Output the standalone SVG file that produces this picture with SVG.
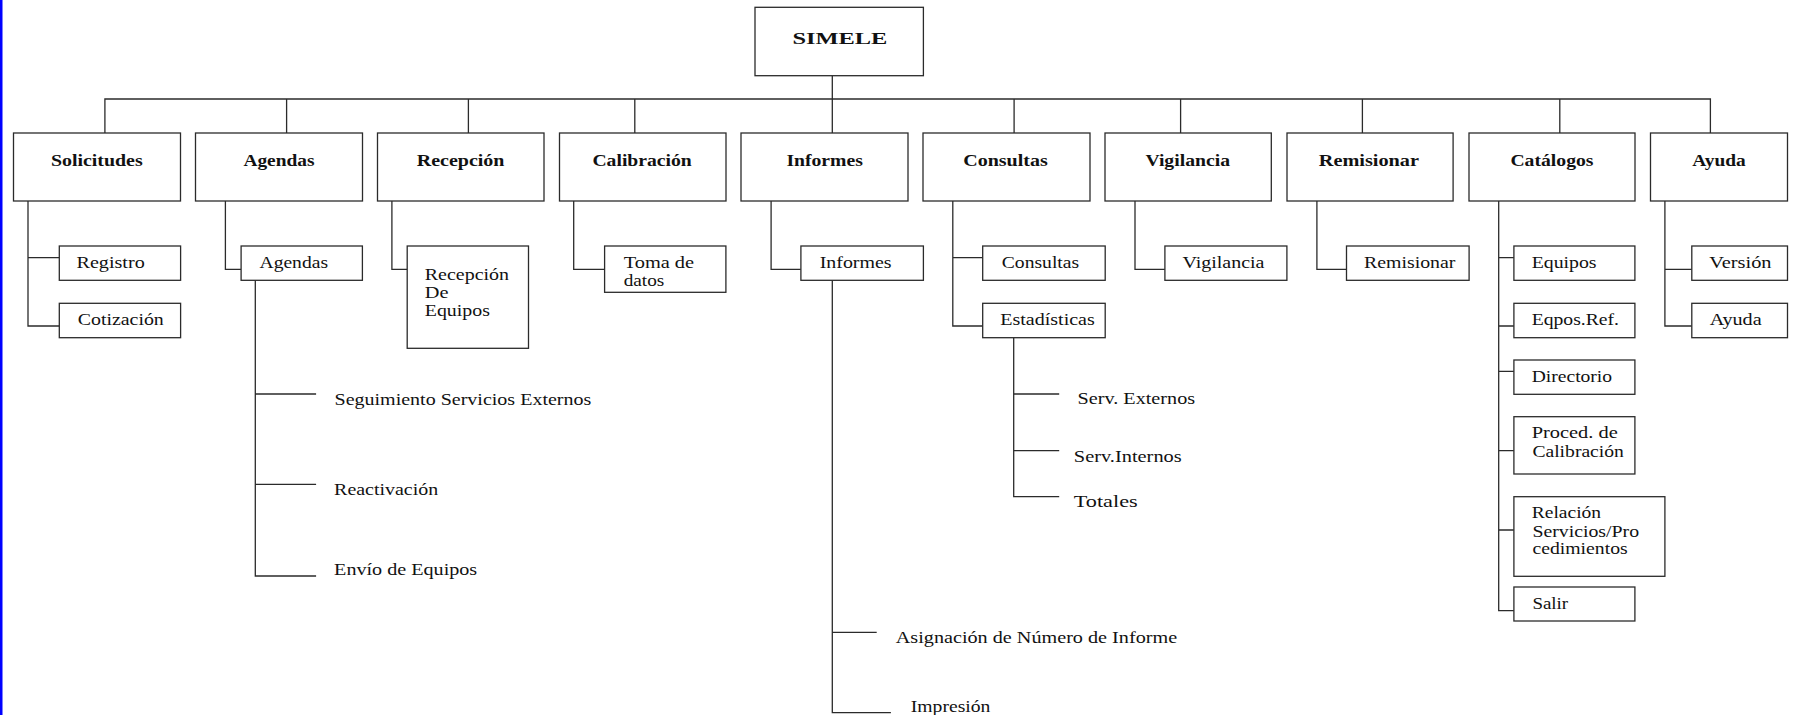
<svg xmlns="http://www.w3.org/2000/svg" width="1795" height="715" viewBox="0 0 1795 715">
<style>
.box{fill:#fff;stroke:#2b2b2b;stroke-width:1.3}
.ln{fill:none;stroke:#2b2b2b;stroke-width:1.3}
text{font-family:"Liberation Serif","Times New Roman",serif;fill:#111;font-size:17px}
.b{font-weight:bold}
</style>
<rect x="0" y="0" width="1795" height="715" fill="#fff"/>
<rect x="0" y="0" width="2.5" height="715" fill="#0000ff"/>
<g id="connectors">
<path class="ln" d="M832.3 75.7V133M104.9 133V99H1710.4V133M286.6 99V133M468.4 99V133M634.8 99V133M1014.1 99V133M1180.6 99V133M1362.4 99V133M1559.8 99V133"/>
<path class="ln" d="M28 201V326H59.3M28 257.7H59.3"/>
<path class="ln" d="M225.4 201V269.3H241.1M255.3 280.3V576H316.1M255.3 394H316.1M255.3 484.3H316.1"/>
<path class="ln" d="M391.9 201V269.3H407.2"/>
<path class="ln" d="M573.7 201V269.3H604.6"/>
<path class="ln" d="M771.1 201V269.3H800.9M832.3 280.3V712.7H890.9M832.3 632.3H876.7"/>
<path class="ln" d="M952.8 201V326H982.7M952.8 257.7H982.7M1013.7 337.7V496.7H1059.2M1013.7 394H1059.2M1013.7 450.7H1059.2"/>
<path class="ln" d="M1135 201V269.3H1164.9"/>
<path class="ln" d="M1316.9 201V269.3H1346.5"/>
<path class="ln" d="M1498.7 201V610.7H1513.9M1498.7 257.7H1513.9M1498.7 326H1513.9M1498.7 371.3H1513.9M1498.7 450.7H1513.9M1498.7 530H1513.9"/>
<path class="ln" d="M1664.9 201V326H1691.8M1664.9 269.3H1691.8"/>
</g>
<g id="simele"><rect class="box" x="755" y="7.3" width="168.4" height="68.4"/><text class="b" x="792.5" y="44.3" textLength="94.9" lengthAdjust="spacingAndGlyphs">SIMELE</text></g>
<g id="solicitudes"><rect class="box" x="13.5" y="133" width="167" height="68"/><text class="b" x="50.9" y="166" textLength="91.8" lengthAdjust="spacingAndGlyphs">Solicitudes</text></g>
<g id="agendas"><rect class="box" x="195.5" y="133" width="167" height="68"/><text class="b" x="243.4" y="166" textLength="71.2" lengthAdjust="spacingAndGlyphs">Agendas</text></g>
<g id="recepcion"><rect class="box" x="377.5" y="133" width="166.5" height="68"/><text class="b" x="416.8" y="166" textLength="87.6" lengthAdjust="spacingAndGlyphs">Recepción</text></g>
<g id="calibracion"><rect class="box" x="559.5" y="133" width="166.5" height="68"/><text class="b" x="592.4" y="166" textLength="99.4" lengthAdjust="spacingAndGlyphs">Calibración</text></g>
<g id="informes"><rect class="box" x="741" y="133" width="167" height="68"/><text class="b" x="786.4" y="166" textLength="76.5" lengthAdjust="spacingAndGlyphs">Informes</text></g>
<g id="consultas"><rect class="box" x="923" y="133" width="167" height="68"/><text class="b" x="963.2" y="166" textLength="84.6" lengthAdjust="spacingAndGlyphs">Consultas</text></g>
<g id="vigilancia"><rect class="box" x="1105" y="133" width="166.3" height="68"/><text class="b" x="1145.4" y="166" textLength="84.6" lengthAdjust="spacingAndGlyphs">Vigilancia</text></g>
<g id="remisionar"><rect class="box" x="1287" y="133" width="166.1" height="68"/><text class="b" x="1318.8" y="166" textLength="100.2" lengthAdjust="spacingAndGlyphs">Remisionar</text></g>
<g id="catalogos"><rect class="box" x="1469" y="133" width="166" height="68"/><text class="b" x="1510.4" y="166" textLength="83.1" lengthAdjust="spacingAndGlyphs">Catálogos</text></g>
<g id="ayuda"><rect class="box" x="1650.5" y="133" width="137" height="68"/><text class="b" x="1692.2" y="166" textLength="53.5" lengthAdjust="spacingAndGlyphs">Ayuda</text></g>
<g id="registro"><rect class="box" x="59.3" y="246" width="121.3" height="34.3"/><text x="76.5" y="268.3" textLength="68.2" lengthAdjust="spacingAndGlyphs">Registro</text></g>
<g id="cotizacion"><rect class="box" x="59.3" y="303.3" width="121.3" height="34.4"/><text x="77.7" y="325" textLength="86.1" lengthAdjust="spacingAndGlyphs">Cotización</text></g>
<g id="agendas-sub"><rect class="box" x="241.1" y="246" width="121.3" height="34.3"/><text x="259.5" y="268.3" textLength="68.5" lengthAdjust="spacingAndGlyphs">Agendas</text></g>
<g id="recepcion-equipos"><rect class="box" x="407.2" y="246" width="121.3" height="102.3"/><text x="424.8" y="280" textLength="84.2" lengthAdjust="spacingAndGlyphs">Recepción</text><text x="424.8" y="297.7" textLength="23.7" lengthAdjust="spacingAndGlyphs">De</text><text x="424.8" y="316" textLength="65.1" lengthAdjust="spacingAndGlyphs">Equipos</text></g>
<g id="toma-datos"><rect class="box" x="604.6" y="246" width="121.3" height="46.3"/><text x="623.7" y="268.3" textLength="70.4" lengthAdjust="spacingAndGlyphs">Toma de</text><text x="623.7" y="286" textLength="40.6" lengthAdjust="spacingAndGlyphs">datos</text></g>
<g id="informes-sub"><rect class="box" x="800.9" y="246" width="122.5" height="34.3"/><text x="819.7" y="268.3" textLength="71.9" lengthAdjust="spacingAndGlyphs">Informes</text></g>
<g id="consultas-sub"><rect class="box" x="982.7" y="246" width="122.5" height="34.3"/><text x="1001.8" y="268.3" textLength="77.3" lengthAdjust="spacingAndGlyphs">Consultas</text></g>
<g id="estadisticas"><rect class="box" x="982.7" y="303.3" width="122.5" height="34.4"/><text x="1000.3" y="325" textLength="94.5" lengthAdjust="spacingAndGlyphs">Estadísticas</text></g>
<g id="vigilancia-sub"><rect class="box" x="1164.9" y="246" width="122" height="34.3"/><text x="1182.5" y="268.3" textLength="82" lengthAdjust="spacingAndGlyphs">Vigilancia</text></g>
<g id="remisionar-sub"><rect class="box" x="1346.5" y="246" width="122.6" height="34.3"/><text x="1364" y="268.3" textLength="91.4" lengthAdjust="spacingAndGlyphs">Remisionar</text></g>
<g id="equipos"><rect class="box" x="1513.9" y="246" width="121" height="34.3"/><text x="1531.7" y="268.3" textLength="64.9" lengthAdjust="spacingAndGlyphs">Equipos</text></g>
<g id="eqpos-ref"><rect class="box" x="1513.9" y="303.3" width="121" height="34.4"/><text x="1531.7" y="325" textLength="87.3" lengthAdjust="spacingAndGlyphs">Eqpos.Ref.</text></g>
<g id="directorio"><rect class="box" x="1513.9" y="360" width="121" height="34.3"/><text x="1531.7" y="381.7" textLength="80.4" lengthAdjust="spacingAndGlyphs">Directorio</text></g>
<g id="proced"><rect class="box" x="1513.9" y="416.7" width="121" height="57.3"/><text x="1531.7" y="438.3" textLength="86.1" lengthAdjust="spacingAndGlyphs">Proced. de</text><text x="1532.4" y="456.7" textLength="91.5" lengthAdjust="spacingAndGlyphs">Calibración</text></g>
<g id="relacion"><rect class="box" x="1513.9" y="496.7" width="151" height="79.6"/><text x="1531.7" y="518.3" textLength="69.4" lengthAdjust="spacingAndGlyphs">Relación</text><text x="1532.4" y="536.7" textLength="106.7" lengthAdjust="spacingAndGlyphs">Servicios/Pro</text><text x="1532.4" y="554.3" textLength="95.3" lengthAdjust="spacingAndGlyphs">cedimientos</text></g>
<g id="salir"><rect class="box" x="1513.9" y="587" width="121" height="34"/><text x="1532.4" y="609" textLength="35.7" lengthAdjust="spacingAndGlyphs">Salir</text></g>
<g id="version"><rect class="box" x="1691.8" y="246" width="95.7" height="34.3"/><text x="1709.3" y="268.3" textLength="62.2" lengthAdjust="spacingAndGlyphs">Versión</text></g>
<g id="ayuda-sub"><rect class="box" x="1691.8" y="303.3" width="95.7" height="34.4"/><text x="1709.7" y="325" textLength="52" lengthAdjust="spacingAndGlyphs">Ayuda</text></g>
<g id="seguimiento"><text x="334.5" y="405" textLength="256.8" lengthAdjust="spacingAndGlyphs">Seguimiento Servicios Externos</text></g>
<g id="reactivacion"><text x="334.1" y="495" textLength="104.1" lengthAdjust="spacingAndGlyphs">Reactivación</text></g>
<g id="envio"><text x="334.1" y="575" textLength="143.1" lengthAdjust="spacingAndGlyphs">Envío de Equipos</text></g>
<g id="asignacion"><text x="895.8" y="643.3" textLength="281.3" lengthAdjust="spacingAndGlyphs">Asignación de Número de Informe</text></g>
<g id="impresion"><text x="910.8" y="711.7" textLength="79.6" lengthAdjust="spacingAndGlyphs">Impresión</text></g>
<g id="serv-externos"><text x="1077.6" y="404.3" textLength="117.5" lengthAdjust="spacingAndGlyphs">Serv. Externos</text></g>
<g id="serv-internos"><text x="1073.8" y="461.7" textLength="107.9" lengthAdjust="spacingAndGlyphs">Serv.Internos</text></g>
<g id="totales"><text x="1073.8" y="506.7" textLength="63.9" lengthAdjust="spacingAndGlyphs">Totales</text></g>
</svg>
